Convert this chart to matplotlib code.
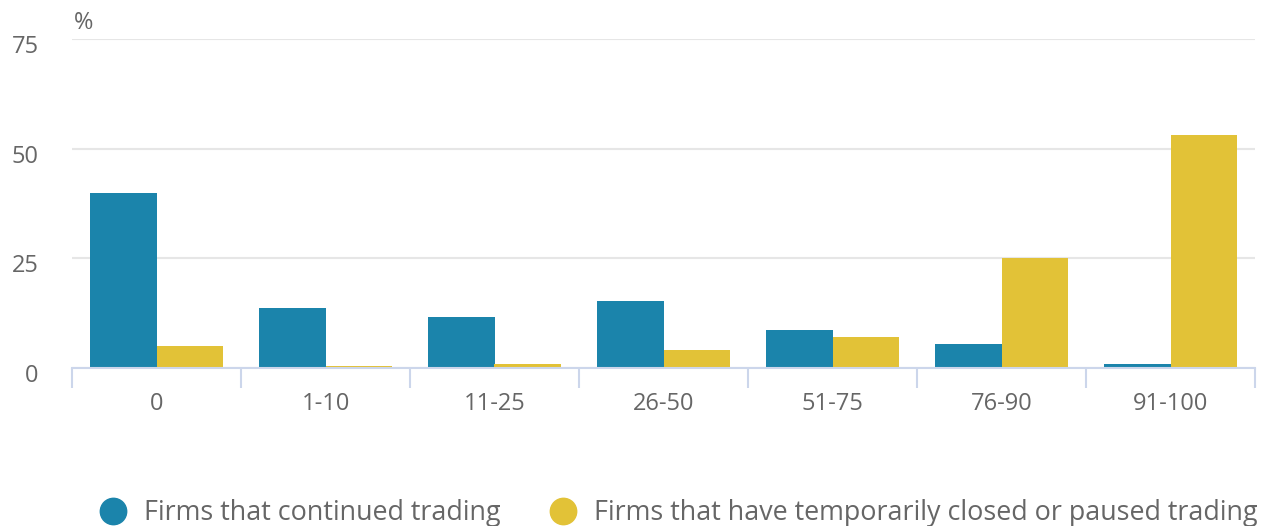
import numpy as np
import matplotlib.pyplot as plt
import matplotlib.transforms as mtransforms
from matplotlib.lines import Line2D
from matplotlib.ticker import FixedLocator

plt.rcParams['font.family'] = ['Open Sans', 'DejaVu Sans']

categories = ['0', '1-10', '11-25', '26-50', '51-75', '76-90', '91-100']
continued = [40.0, 13.7, 11.6, 15.3, 8.7, 5.5, 0.9]
closed = [5.0, 0.5, 0.9, 4.1, 7.1, 25.1, 53.1]
series_names = ['Firms that continued trading',
                'Firms that have temporarily closed or paused trading']
colors = ['#1b84ab', '#e2c237']

fig = plt.figure(figsize=(12.65, 5.26), dpi=100)
ax = fig.add_axes([72 / 1265, 158 / 526, 1183 / 1265, 329 / 526])

x = np.arange(len(categories))
w = 0.395
ax.bar(x - w / 2, continued, w, color=colors[0], zorder=3)
ax.bar(x + w / 2, closed, w, color=colors[1], zorder=3)

ax.set_xlim(-0.5, len(categories) - 0.5)
ax.set_ylim(0, 75)
ax.set_yticks([0, 25, 50, 75])
ax.set_xticks(x)
ax.set_xticklabels(categories)
ax.xaxis.set_minor_locator(FixedLocator(np.arange(-0.5, len(categories), 1.0)))

ax.grid(axis='y', color='#e6e6e6', linewidth=1.5, zorder=0)
for s in ['top', 'right', 'left']:
    ax.spines[s].set_visible(False)
ax.spines['bottom'].set_color('#ccd6eb')
ax.spines['bottom'].set_linewidth(1.5)
ax.spines['bottom'].set_zorder(4)

ax.tick_params(axis='x', which='major', length=0, pad=17, labelsize=17, labelcolor='#666666')
ax.tick_params(axis='x', which='minor', length=14.5, width=1.5, color='#ccd6eb')
ax.tick_params(axis='y', length=0, pad=24, labelsize=17, labelcolor='#666666')

# highcharts puts y labels a bit under the grid line
shift = mtransforms.ScaledTranslation(0, -5 / 100, fig.dpi_scale_trans)
for lab in ax.get_yticklabels():
    lab.set_transform(lab.get_transform() + shift)

fig.text(74 / 1265, 1 - 23 / 526, '%', fontsize=17, color='#666666', va='center', ha='left')

handles = [Line2D([], [], marker='o', linestyle='', markersize=19, color=c) for c in colors]
fig.legend(handles, series_names, loc='center left', ncol=2, frameon=False,
           bbox_to_anchor=(99.5 / 1265, 1 - 513 / 526), fontsize=19.4,
           borderpad=0, borderaxespad=0, handlelength=1.0,
           labelcolor='#666666', handletextpad=0.65, columnspacing=1.83)

fig.savefig('out.png', dpi=100)
